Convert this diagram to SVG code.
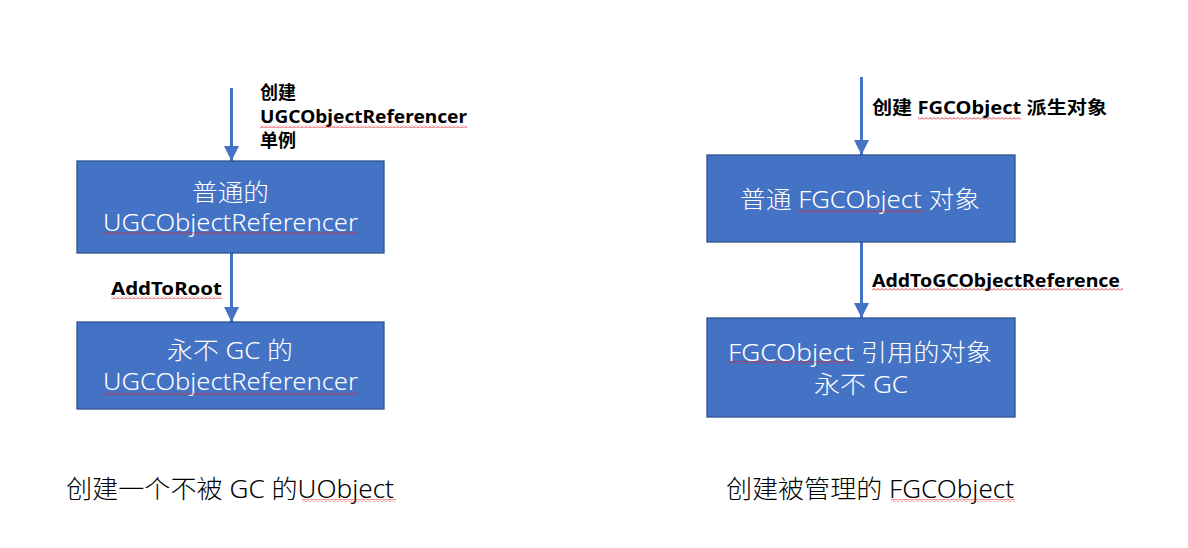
<svg xmlns="http://www.w3.org/2000/svg" width="1188" height="548" viewBox="0 0 1188 548">
  <defs>
    <style>
      .box { fill: #4472C4; stroke: #2F528F; stroke-width: 1.3; }
      .bt { font-family: "Noto Sans", "Noto Sans CJK SC", sans-serif; font-size: 24px; font-weight: 300; fill: #FFFFFF; }
      .lbl { font-family: "Noto Sans", "Noto Sans CJK SC", sans-serif; font-size: 18px; font-weight: bold; fill: #000000; }
      .cap { font-family: "Noto Sans", "Noto Sans CJK SC", sans-serif; font-size: 25px; font-weight: 300; fill: #000000; }
      .conn { stroke: #4472C4; stroke-width: 3; fill: none; }
      .sq { fill: url(#squiggle); }
    </style>
    <pattern id="squiggle" patternUnits="userSpaceOnUse" x="0" y="0" width="4" height="3">
      <path d="M0,2.5 L2,0.5 L4,2.5" fill="none" stroke="#E02020" stroke-width="0.9"/>
    </pattern>
    <marker id="arrow" viewBox="0 0 10 10" refX="10" refY="5" markerWidth="5" markerHeight="5.3" markerUnits="strokeWidth" orient="auto">
      <path d="M0,0 L10,5 L0,10 Z" fill="#4472C4"/>
    </marker>
  </defs>
  <rect width="1188" height="548" fill="#FFFFFF"/>

  <g id="connectors">
    <line class="conn" x1="231.5" y1="88" x2="231.5" y2="161" marker-end="url(#arrow)"/>
    <line class="conn" x1="231.5" y1="253" x2="231.5" y2="322" marker-end="url(#arrow)"/>
    <line class="conn" x1="861.5" y1="77" x2="861.5" y2="155" marker-end="url(#arrow)"/>
    <line class="conn" x1="861.5" y1="242" x2="861.5" y2="318" marker-end="url(#arrow)"/>
    <g id="connector-labels">
      <text class="lbl" x="260" y="99">创建</text>
      <text class="lbl" x="260" y="123" textLength="207" lengthAdjust="spacingAndGlyphs">UGCObjectReferencer</text>
      <rect class="sq" x="260" y="125" width="207" height="3"/>
      <text class="lbl" x="260" y="147">单例</text>
      <text class="lbl" x="111" y="295" textLength="111" lengthAdjust="spacingAndGlyphs">AddToRoot</text>
      <rect class="sq" x="111" y="296" width="111" height="3"/>
      <text class="lbl" x="872" y="114" textLength="235" lengthAdjust="spacingAndGlyphs">创建 FGCObject 派生对象</text>
      <rect class="sq" x="918" y="117" width="103" height="3"/>
      <text class="lbl" x="872" y="287" textLength="248" lengthAdjust="spacingAndGlyphs">AddToGCObjectReference</text>
      <rect class="sq" x="872" y="288" width="251" height="3"/>
    </g>
  </g>

  <g id="node-normal-ugc">
    <rect class="box" x="77" y="161" width="307" height="92"/>
    <text class="bt" x="192" y="201" textLength="77" lengthAdjust="spacingAndGlyphs">普通的</text>
    <text class="bt" x="103" y="231" textLength="255" lengthAdjust="spacingAndGlyphs">UGCObjectReferencer</text>
    <rect class="sq" x="103" y="232" width="255" height="3"/>
  </g>

  <g id="node-never-gc-ugc">
    <rect class="box" x="77" y="322" width="307" height="87"/>
    <text class="bt" x="167" y="359" textLength="126" lengthAdjust="spacingAndGlyphs">永不 GC 的</text>
    <text class="bt" x="103" y="390" textLength="255" lengthAdjust="spacingAndGlyphs">UGCObjectReferencer</text>
    <rect class="sq" x="103" y="392" width="255" height="3"/>
  </g>

  <g id="node-normal-fgc">
    <rect class="box" x="707" y="155" width="308" height="87"/>
    <text class="bt" x="740" y="208" textLength="240" lengthAdjust="spacingAndGlyphs">普通 FGCObject 对象</text>
    <rect class="sq" x="798" y="210" width="125" height="3"/>
  </g>

  <g id="node-fgc-referenced">
    <rect class="box" x="707" y="318" width="308" height="99"/>
    <text class="bt" x="728" y="361" textLength="264" lengthAdjust="spacingAndGlyphs">FGCObject 引用的对象</text>
    <rect class="sq" x="728" y="361" width="124" height="3"/>
    <text class="bt" x="814" y="393" textLength="94" lengthAdjust="spacingAndGlyphs">永不 GC</text>
  </g>

  <g id="captions">
    <text class="cap" x="66" y="498" textLength="328" lengthAdjust="spacingAndGlyphs">创建一个不被 GC 的UObject</text>
    <rect class="sq" x="302" y="499" width="94" height="3"/>
    <text class="cap" x="726" y="498" textLength="288" lengthAdjust="spacingAndGlyphs">创建被管理的 FGCObject</text>
    <rect class="sq" x="891" y="499" width="124" height="3"/>
  </g>
</svg>
